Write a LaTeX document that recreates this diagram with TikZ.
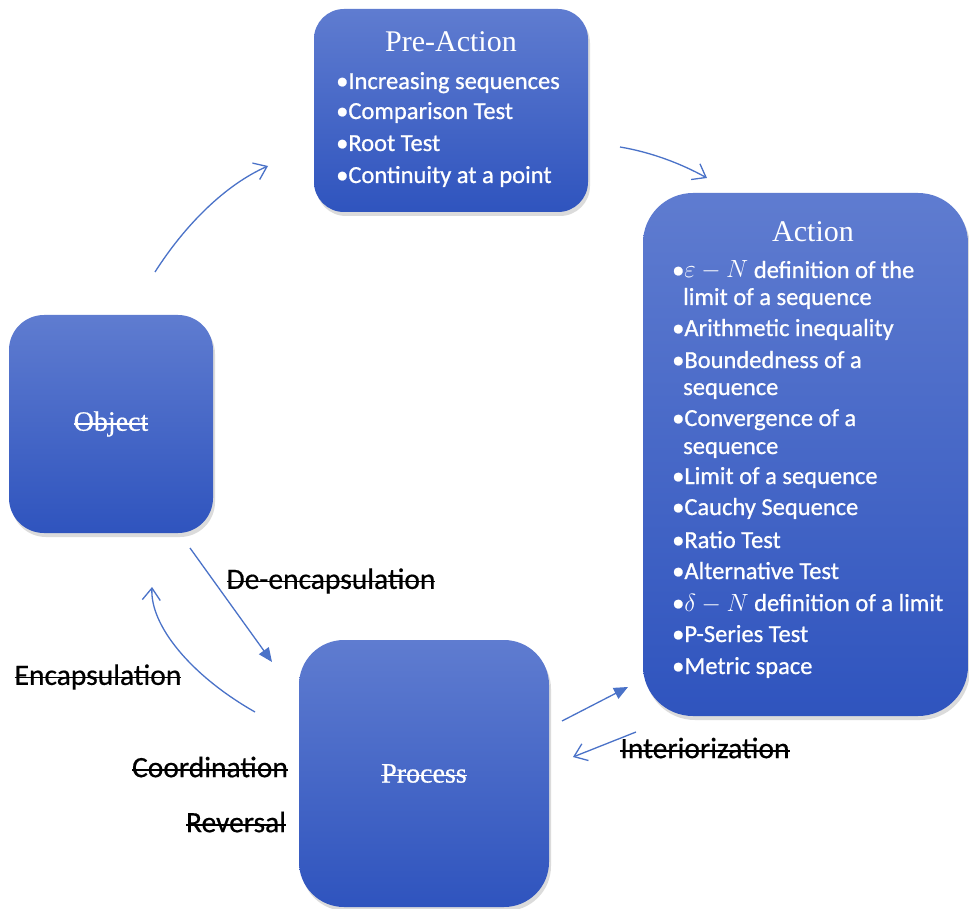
\documentclass[tikz,border=0pt]{standalone}
\usepackage{fontspec}
\setmainfont{Liberation Serif}
\newfontfamily\calibfont{Carlito}[FakeBold=0.8]
\newfontfamily\labfont{Carlito}[FakeBold=0.5]
\newfontfamily\serifheavy{Liberation Serif}[FakeBold=0.6]
\newcommand{\strk}[1]{\setbox0\hbox{#1}\rlap{\rule[0.22em]{\wd0}{1.5pt}}\box0}
\usetikzlibrary{arrows.meta,shadows}
\definecolor{boxtop}{RGB}{95,124,208}
\definecolor{boxbot}{RGB}{47,84,190}
\definecolor{arr}{RGB}{74,114,200}
\begin{document}
\begin{tikzpicture}[x=1pt,y=-1pt,
  box/.style={rectangle, top color=boxtop, bottom color=boxbot, draw=none,
    drop shadow={shadow xshift=2pt,shadow yshift=-4pt,opacity=0.28},
    inner sep=0pt, text=white, font=\serifheavy\fontsize{28}{32}\selectfont},
  title/.style={inner sep=0pt, text=white, font=\fontsize{30}{36}\selectfont},
  item/.style={anchor=west, inner sep=0pt, text=white,
    font=\calibfont\fontsize{24.5}{28}\selectfont, text height=17pt, text depth=5pt},
  lab/.style={inner sep=0pt, text=black, font=\labfont\fontsize{29.5}{34}\selectfont},
  conn/.style={draw=arr, line width=1.3pt},
  open/.style={conn, -{Straight Barb[length=12pt,width=18pt]}},
  filled/.style={conn, -{Triangle[length=14pt,width=12pt]}}]
\useasboundingbox (0,0) rectangle (969,909);
\fill[white] (0,0) rectangle (969,909);

% boxes
\node[box, rounded corners=30pt, minimum width=274pt, minimum height=203pt] (pre) at (451,110.5) {};
\node[box, rounded corners=50pt, minimum width=325pt, minimum height=523pt] (act) at (805.5,454.5) {};
\node[box, rounded corners=35pt, minimum width=204pt, minimum height=218pt] (obj) at (111,424) {\strk{Object}};
\node[box, rounded corners=45pt, minimum width=250pt, minimum height=267pt] (proc) at (424,773.5) {\strk{Process}};

% Pre-Action text
\node[title] (pret) at (451,42) {Pre-Action};
\node[item] (p1) at (336,83) {•Increasing sequences};
\node[item] (p2) at (336,113) {•Comparison Test};
\node[item] (p3) at (336,145) {•Root Test};
\node[item] (p4) at (336,177) {•Continuity at a point};

% Action text
\node[title] (actt) at (813,232) {Action};
\node[item] (a1) at (672,272) {•$\varepsilon - N$ definition of the};
\node[item] (a1b) at (683,299) {limit of a sequence};
\node[item] (a2) at (672,330) {•Arithmetic inequality};
\node[item] (a3) at (672,362) {•Boundedness of a};
\node[item] (a3b) at (683,389) {sequence};
\node[item] (a4) at (672,420) {•Convergence of a};
\node[item] (a4b) at (683,448) {sequence};
\node[item] (a5) at (672,478) {•Limit of a sequence};
\node[item] (a6) at (672,509) {•Cauchy Sequence};
\node[item] (a7) at (672,542) {•Ratio Test};
\node[item] (a8) at (672,573) {•Alternative Test};
\node[item] (a9) at (672,605) {•$\delta - N$ definition of a limit};
\node[item] (a10) at (672,636) {•P-Series Test};
\node[item] (a11) at (672,668) {•Metric space};

% labels
\node[lab] (deenc) at (331,581) {\strk{De-encapsulation}};
\node[lab] (enc) at (98,677) {\strk{Encapsulation}};
\node[lab] (coord) at (210,767) {\strk{Coordination}};
\node[lab] (rev) at (236,822) {\strk{Reversal}};
\node[lab] (inter) at (705,748) {\strk{Interiorization}};

% connector ends
\coordinate (c1s) at (155,272); \coordinate (c1e) at (268,166);
\coordinate (c2s) at (620,147); \coordinate (c2e) at (707,178);
\coordinate (c3s) at (190,548); \coordinate (c3e) at (272,662);
\coordinate (c4s) at (255,712); \coordinate (c4e) at (152,587);
\coordinate (c5s) at (562,721); \coordinate (c5e) at (628,687);
\coordinate (c6s) at (636,732); \coordinate (c6e) at (573,757);

\draw[open] (c1s) .. controls (185,225) and (225,185) .. (c1e);
\draw[open] (c2s) .. controls (650,152) and (680,163) .. (c2e);
\draw[filled] (c3s) -- (c3e);
\draw[open] (c4s) .. controls (190,675) and (150,625) .. (c4e);
\draw[filled] (c5s) -- (c5e);
\draw[open] (c6s) -- (c6e);
\end{tikzpicture}
\end{document}
